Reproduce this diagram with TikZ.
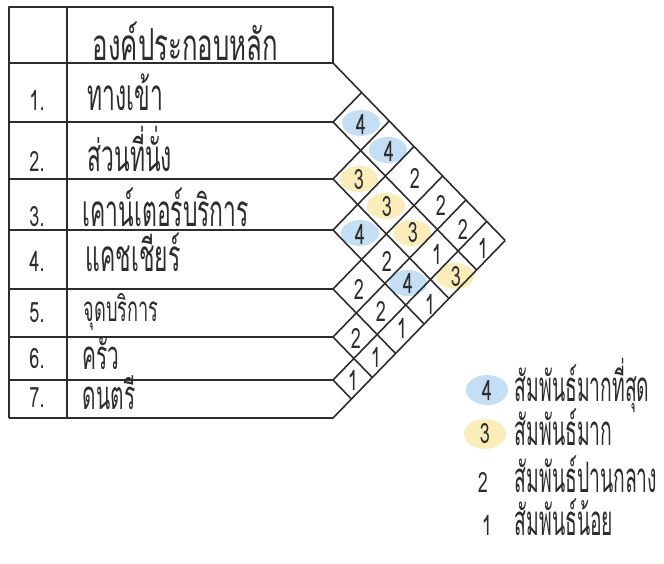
\documentclass[tikz,border=0pt]{standalone}
\usepackage{fontspec}
\newfontfamily\thaifont[Script=Thai,FakeStretch=0.52]{Loma}
\newfontfamily\thaiwide[Script=Thai,FakeStretch=0.585]{Loma}
\newfontfamily\thainarrow[Script=Thai,FakeStretch=0.46]{Loma}
\newfontfamily\digitfont[FakeStretch=0.645]{Loma}
\definecolor{inkgray}{RGB}{45,45,45}
\definecolor{bluespot}{RGB}{196,223,243}
\definecolor{yellowspot}{RGB}{250,237,186}

\begin{document}
\begin{tikzpicture}[x=1pt, y=-1pt, line width=1.6pt, line join=round, inkgray,
  lbl/.style={font=\thaifont\fontsize{44}{50}\selectfont, anchor=base west, inner sep=0pt},
  headlbl/.style={lbl, font=\thaiwide\fontsize{44}{50}\selectfont},
  smalllbl/.style={lbl, font=\thaifont\fontsize{35}{40}\selectfont},
  tightlbl/.style={lbl, font=\thaifont\fontsize{40}{44}\selectfont},
  keylbl/.style={lbl, font=\thainarrow\fontsize{42}{48}\selectfont},
  num/.style={font=\digitfont\fontsize{28}{30}\selectfont, inner sep=0pt},
  rownum/.style={num, anchor=base},
  spotfour/.style={fill=bluespot},
  spotthree/.style={fill=yellowspot}]
  \useasboundingbox (0,0) rectangle (664,564);

  % spots behind the strong relations
  \fill[spotfour]  (361,123) ellipse (19pt and 13pt);
  \fill[spotfour]  (388,150) ellipse (19pt and 13pt);
  \fill[spotfour]  (360,233) ellipse (19pt and 13pt);
  \fill[spotfour]  (408,283) ellipse (19pt and 13pt);
  \fill[spotthree] (359,179) ellipse (19pt and 13pt);
  \fill[spotthree] (386,206) ellipse (19pt and 13pt);
  \fill[spotthree] (412,233) ellipse (19pt and 13pt);
  \fill[spotthree] (455,276) ellipse (19pt and 13pt);

  % table frame
  \draw (333,63) -- (333,7) -- (9,7) -- (9,418);
  \draw (67,7) -- (67,418);

  % row lines folded into the chart
  \draw (9,63) -- (333,63) coordinate (b0) -- (505.2,240.5) coordinate (tip);
  \draw (9,122) -- (333,122) coordinate (b1) -- (476.6,270);
  \draw (b1) -- (361.6,92.5);
  \draw (9,179) -- (333,179) coordinate (b2) -- (448.9,298.5);
  \draw (b2) -- (389.3,121);
  \draw (9,230) -- (333,230) coordinate (b3) -- (424.2,324);
  \draw (b3) -- (414.0,146.5);
  \draw (9,289) -- (333,289) coordinate (b4) -- (395.6,353.5);
  \draw (b4) -- (442.6,176);
  \draw (9,337) -- (333,337) coordinate (b5) -- (372.3,377.5);
  \draw (b5) -- (465.9,200);
  \draw (9,380) -- (333,380) coordinate (b6) -- (351.4,399);
  \draw (b6) -- (486.7,221.5);
  \draw (9,418) -- (333,418) coordinate (b7) -- (tip);

  % table texts
  \node[headlbl] (head) at (92,61) {องค์ประกอบหลัก};
  \node[rownum] (n1) at (37,111) {1.};
  \node[rownum] (n2) at (37,172) {2.};
  \node[rownum] (n3) at (37,226) {3.};
  \node[rownum] (n4) at (37,271) {4.};
  \node[rownum] (n5) at (37,322) {5.};
  \node[rownum] (n6) at (37,368) {6.};
  \node[rownum] (n7) at (37,407) {7.};
  \node[lbl] (r1) at (87,111) {ทางเข้า};
  \node[lbl] (r2) at (87,172) {ส่วนที่นั่ง};
  \node[lbl] (r3) at (82,226) {เคาน์เตอร์บริการ};
  \node[lbl] (r4) at (85,271) {แคชเชียร์};
  \node[smalllbl] (r5) at (83,321) {จุดบริการ};
  \node[tightlbl] (r6) at (82,369) {ครัว};
  \node[tightlbl] (r7) at (82,409) {ดนตรี};

  % relation values
  \node[num] (p12) at (361,124) {4};
  \node[num] (p13) at (389,151) {4};
  \node[num] (p14) at (415,178) {2};
  \node[num] (p15) at (441,205) {2};
  \node[num] (p16) at (463,229) {2};
  \node[num] (p17) at (483,248) {1};
  \node[num] (p23) at (359,180) {3};
  \node[num] (p24) at (387,207) {3};
  \node[num] (p25) at (413,233) {3};
  \node[num] (p26) at (437,254) {1};
  \node[num] (p27) at (456,277) {3};
  \node[num] (p34) at (360,234) {4};
  \node[num] (p35) at (387,261) {2};
  \node[num] (p36) at (408,283) {4};
  \node[num] (p37) at (430,304) {1};
  \node[num] (p45) at (359,289) {2};
  \node[num] (p46) at (381,311) {2};
  \node[num] (p47) at (402,328) {1};
  \node[num] (p56) at (356,338) {2};
  \node[num] (p57) at (376,357) {1};
  \node[num] (p67) at (353,380) {1};

  % legend
  \fill[spotfour]  (487,390) ellipse (21pt and 15pt);
  \fill[spotthree] (485,434) ellipse (21pt and 15pt);
  \node[num] (k4) at (487,390) {4};
  \node[num] (k3) at (485,434) {3};
  \node[num] (k2) at (483,482) {2};
  \node[num] (k1) at (487,525) {1};
  \node[keylbl] (t4) at (514,401) {สัมพันธ์มากที่สุด};
  \node[keylbl] (t3) at (514,445) {สัมพันธ์มาก};
  \node[keylbl] (t2) at (514,492) {สัมพันธ์ปานกลาง};
  \node[keylbl] (t1) at (514,535) {สัมพันธ์น้อย};
\end{tikzpicture}
\end{document}
